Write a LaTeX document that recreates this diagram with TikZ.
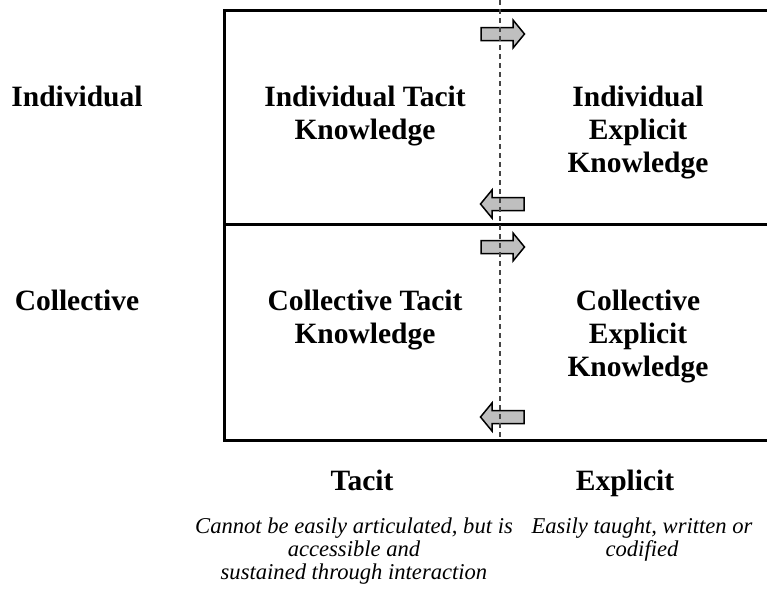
\documentclass[tikz,border=0pt]{standalone}
\usepackage{fontspec}
\setmainfont{Liberation Serif}
\definecolor{pfeilgrau}{rgb}{0.75,0.75,0.75}
\definecolor{strichgrau}{rgb}{0.27,0.27,0.27}
\tikzset{
	cell/.style={font=\fontsize{14.75}{16.5}\selectfont\bfseries, align=center, anchor=north, inner sep=0pt},
	note/.style={font=\fontsize{11.3}{11.5}\selectfont\itshape, align=center, anchor=north, inner sep=0pt},
	blockarr/.style={draw=black, fill=pfeilgrau, line width=0.75pt, line join=miter},
	frame/.style={line width=1.5pt}
}

\begin{document}
\begin{tikzpicture}[x=0.5pt, y=-0.5pt]
		\useasboundingbox (0,0) rectangle (767,589);
		\draw[frame] (767,10) -- (224,10) -- (224,440) -- (767,440);
		\draw[frame] (224,224) -- (767,224);
		% arrows across the tacit/explicit border
		\foreach \y/\d in {34/1,204/-1,247/1,417/-1}{
			\draw[blockarr, shift={(502.5,\y)}, xscale=\d] (-21.5,-6.5) -- (10.5,-6.5) -- (10.5,-14) -- (22,0) -- (10.5,14) -- (10.5,6.5) -- (-21.5,6.5) -- cycle;
		}
		\coordinate (grenzeoben) at (500,0);
		\coordinate (grenzeunten) at (500,440);
		\draw[strichgrau, line width=1pt, dash pattern=on 2.5pt off 2pt] (grenzeoben) -- (grenzeunten);
		% rows
		\node[cell] (rowind) at (77,86) {Individual};
		\node[cell] (rowcol) at (77,290) {Collective};
		% cells
		\node[cell] (indtacit) at (365,86) {Individual Tacit\\Knowledge};
		\node[cell] (indexpl) at (638,86) {Individual\\Explicit\\Knowledge};
		\node[cell] (coltacit) at (365,290) {Collective Tacit\\Knowledge};
		\node[cell] (colexpl) at (638,290) {Collective\\Explicit\\Knowledge};
		% columns
		\node[cell] (coltac) at (362,470) {Tacit};
		\node[cell] (colexp) at (625,470) {Explicit};
		\node[note] (desctac) at (354,517) {Cannot be easily articulated, but is\\accessible and\\sustained through interaction};
		\node[note] (descexp) at (642,517) {Easily taught, written or\\codified};
	\end{tikzpicture}
\end{document}
